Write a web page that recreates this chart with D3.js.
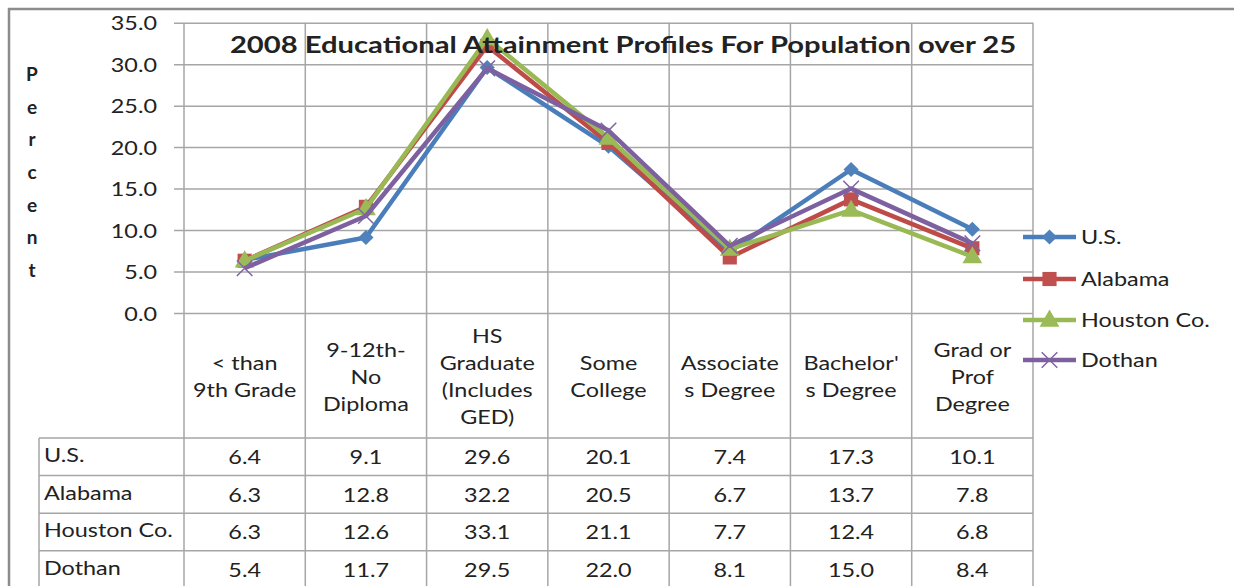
<!DOCTYPE html>
<html>
<head>
<meta charset="utf-8">
<script src="https://cdn.jsdelivr.net/npm/d3@7"></script>
<style>
  html, body { margin: 0; padding: 0; background: #fff; }
  svg { display: block; }
  text { font-family: Lato, "Open Sans", sans-serif; fill: #222; }
</style>
</head>
<body>
<svg id="chart" width="1234" height="586"></svg>
<script>
const title = "2008 Educational Attainment Profiles For Population over 25";
const yAxisTitle = "Percent";
const categories = ["< than 9th Grade", "9-12th- No Diploma", "HS Graduate (Includes GED)", "Some College", "Associates Degree", "Bachelor's Degree", "Grad or Prof Degree"];
const categoryLines = [["< than", "9th Grade"], ["9-12th-", "No", "Diploma"], ["HS", "Graduate", "(Includes", "GED)"], ["Some", "College"], ["Associate", "s Degree"], ["Bachelor'", "s Degree"], ["Grad or", "Prof", "Degree"]];
const seriesNames = ["U.S.", "Alabama", "Houston Co.", "Dothan"];
const usValues = [6.4, 9.1, 29.6, 20.1, 7.4, 17.3, 10.1];
const alabamaValues = [6.3, 12.8, 32.2, 20.5, 6.7, 13.7, 7.8];
const houstonValues = [6.3, 12.6, 33.1, 21.1, 7.7, 12.4, 6.8];
const dothanValues = [5.4, 11.7, 29.5, 22.0, 8.1, 15.0, 8.4];
const yTicks = [0, 5, 10, 15, 20, 25, 30, 35];

const seriesValues = [usValues, alabamaValues, houstonValues, dothanValues];
const lineColors = ["#4A7EBB", "#BE4B48", "#98B954", "#7D60A0"];
const markerColors = ["#4F81BD", "#C0504D", "#9BBB59", "#8064A2"];
const markerTypes = ["diamond", "square", "triangle", "x"];

const svg = d3.select("#chart");
const gridColor = "#a6a6a6";
const SX = 1.17;      // horizontal stretch of body text
const FS = 20;        // body font size

const plotLeft = 184, plotRight = 1033, plotTop = 22.7, plotBottom = 313;
const tableTop = 438, rowH = 37.6, tableLeft = 39;

const x = d3.scaleBand().domain(categories).range([plotLeft, plotRight]);
const y = d3.scaleLinear().domain([0, 35]).range([plotBottom, plotTop]);

// helper: stretched text at (px,py)
function sText(parent, px, py, str, anchor, opts = {}) {
  const t = parent.append("text")
    .attr("transform", `translate(${px},${py}) scale(${opts.sx || SX},1)`)
    .attr("x", 0).attr("y", 0).attr("dy", "0.36em")
    .attr("text-anchor", anchor || "start")
    .attr("font-size", opts.fs || FS)
    .attr("fill", opts.fill || "#2a2a2a")
    .text(str);
  if (opts.bold) t.attr("font-weight", "bold");
  return t;
}

// outer border
svg.append("path").attr("d", `M9,586 L9,9 L1234,9`)
  .attr("fill", "none").attr("stroke", "#8c8c8c").attr("stroke-width", 2.5);

// horizontal gridlines + ticks
const yAxis = d3.axisLeft(y).tickValues(yTicks).tickFormat(d3.format(".1f"))
  .tickSize(-(plotRight - plotLeft)).tickSizeOuter(0);
const gy = svg.append("g").attr("transform", `translate(${plotLeft},0)`).call(yAxis);
gy.select(".domain").remove();
gy.selectAll(".tick line").attr("stroke", gridColor).attr("stroke-width", 1.5).attr("x1", -10);
gy.selectAll(".tick text")
  .attr("x", null).attr("dy", "0.36em")
  .attr("transform", `translate(-27,0) scale(${SX},1)`)
  .attr("text-anchor", "end")
  .attr("font-size", FS).attr("fill", "#333")
  .attr("font-family", "Lato, sans-serif");

// vertical gridlines (band boundaries) spanning plot + category cells + table
const bounds = categories.map(c => x(c)).concat([plotRight]);
svg.append("g").selectAll("line").data(bounds).join("line")
  .attr("x1", d => d).attr("x2", d => d)
  .attr("y1", plotTop).attr("y2", 586)
  .attr("stroke", gridColor).attr("stroke-width", 1.5);

// table lines
const rowLines = d3.range(seriesNames.length + 1).map(i => tableTop + i * rowH);
svg.append("g").selectAll("line").data(rowLines).join("line")
  .attr("x1", tableLeft).attr("x2", plotRight)
  .attr("y1", d => d).attr("y2", d => d)
  .attr("stroke", gridColor).attr("stroke-width", 1.5);
svg.append("line").attr("x1", tableLeft).attr("x2", tableLeft)
  .attr("y1", tableTop).attr("y2", 586).attr("stroke", gridColor).attr("stroke-width", 1.5);

// category labels
const catG = svg.append("g");
categories.forEach((c, i) => {
  const lines = categoryLines[i];
  const lh = 27;
  const cy = (plotBottom + tableTop) / 2 + 1;
  const startY = cy - (lines.length - 1) * lh / 2;
  lines.forEach((ln, j) => {
    sText(catG, x(c) + x.bandwidth() / 2, startY + j * lh, ln, "middle", { fill: "#333" });
  });
});

// table text
const tg = svg.append("g");
seriesNames.forEach((name, r) => {
  const cy = tableTop + r * rowH + rowH / 2;
  sText(tg, tableLeft + 5, cy - 2, name, "start", { fill: "#333" });
  seriesValues[r].forEach((v, i) => {
    sText(tg, x(categories[i]) + x.bandwidth() / 2, cy, d3.format(".1f")(v), "middle", { fill: "#333" });
  });
});

// y-axis title, stacked letters
const yt = svg.append("text").attr("text-anchor", "middle").attr("font-weight", "bold")
  .attr("font-size", 19).attr("fill", "#111");
yAxisTitle.split("").forEach((ch, i) => {
  yt.append("tspan").attr("x", 32).attr("y", 74 + i * 32.7).attr("dy", "0.36em").text(ch);
});

// marker drawing
function drawMarker(g, type, cx, cy, color) {
  if (type === "diamond") {
    g.append("path").attr("d", d3.symbol(d3.symbolSquare, 115)())
      .attr("transform", `translate(${cx},${cy}) rotate(45)`).attr("fill", color);
  } else if (type === "square") {
    g.append("path").attr("d", d3.symbol(d3.symbolSquare, 200)())
      .attr("transform", `translate(${cx},${cy})`).attr("fill", color);
  } else if (type === "triangle") {
    g.append("path").attr("d", d3.symbol(d3.symbolTriangle, 170)())
      .attr("transform", `translate(${cx},${cy + 1})`).attr("fill", color);
  } else {
    g.append("path").attr("d", d3.symbol(d3.symbolTimes, 160)())
      .attr("transform", `translate(${cx},${cy})`).attr("fill", "none")
      .attr("stroke", color).attr("stroke-width", 1.5);
  }
}

// series lines + markers
const line = d3.line().x((d, i) => x(categories[i]) + x.bandwidth() / 2).y(d => y(d));
seriesValues.forEach((vals, s) => {
  const g = svg.append("g");
  g.append("path").datum(vals).attr("d", line).attr("fill", "none")
    .attr("stroke", lineColors[s]).attr("stroke-width", 4.5).attr("stroke-linejoin", "round");
  vals.forEach((v, i) => drawMarker(g, markerTypes[s], x(categories[i]) + x.bandwidth() / 2, y(v), markerColors[s]));
});

// legend
const legY = [237, 279, 320, 360];
seriesNames.forEach((name, s) => {
  const g = svg.append("g");
  g.append("line").attr("x1", 1023).attr("x2", 1076).attr("y1", legY[s]).attr("y2", legY[s])
    .attr("stroke", lineColors[s]).attr("stroke-width", 4.5);
  drawMarker(g, markerTypes[s], 1049.5, legY[s], markerColors[s]);
  sText(g, 1081, legY[s], name, "start", { fill: "#222" });
});

// title
sText(svg, 623, 45, title, "middle", { bold: true, fs: 23, sx: 1.27, fill: "#000" });
</script>
</body>
</html>
